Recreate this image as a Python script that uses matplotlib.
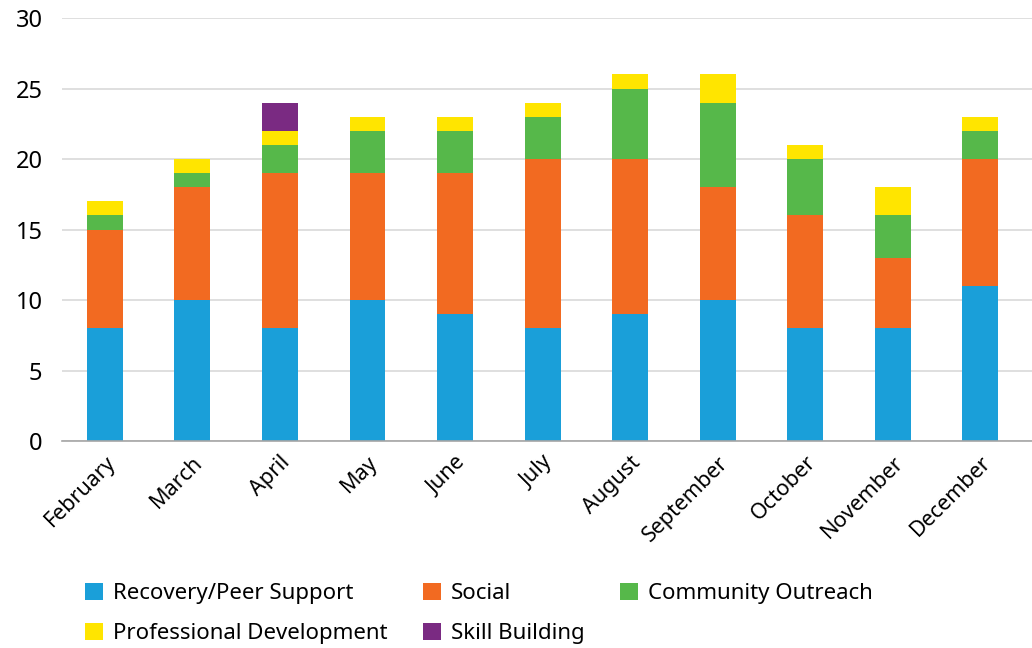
import matplotlib
matplotlib.use("Agg")
import matplotlib.pyplot as plt
import numpy as np

months = ["February", "March", "April", "May", "June", "July", "August",
          "September", "October", "November", "December"]

recovery = [8, 10, 8, 10, 9, 8, 9, 10, 8, 8, 11]
social = [7, 8, 11, 9, 10, 12, 11, 8, 8, 5, 9]
community = [1, 1, 2, 3, 3, 3, 5, 6, 4, 3, 2]
professional = [1, 1, 1, 1, 1, 1, 1, 2, 1, 2, 1]
skill = [0, 0, 2, 0, 0, 0, 0, 0, 0, 0, 0]

series = [
    ("Recovery/Peer Support", recovery, "#1a9fd9"),
    ("Social", social, "#f26a21"),
    ("Community Outreach", community, "#56b84a"),
    ("Professional Development", professional, "#ffe500"),
    ("Skill Building", skill, "#7a2a82"),
]

plt.rcParams["font.family"] = ["Noto Sans", "DejaVu Sans"]

fig = plt.figure(figsize=(10.32, 6.48), dpi=100)
ax = fig.add_axes([0.060, 0.3194, 0.940, 0.6528])

x = np.arange(len(months))
bottom = np.zeros(len(months))
handles = {}
for name, vals, color in series:
    vals = np.array(vals, dtype=float)
    h = ax.bar(x, vals, width=0.41, bottom=bottom, color=color, label=name, zorder=3)
    handles[name] = h
    bottom += vals

ax.set_ylim(0, 30)
ax.set_yticks(range(0, 31, 5))
ax.set_xlim(-0.49, 10.59)
ax.set_xticks(x)
ax.set_xticklabels(months, rotation=45, ha="right", rotation_mode="anchor", fontsize=15.5)
ax.tick_params(axis="y", labelsize=17, length=0, pad=14)
ax.tick_params(axis="x", length=0, pad=8)
ax.yaxis.grid(True, color="#d9d9d9", linewidth=1.2, zorder=0)
for side in ["top", "right", "left"]:
    ax.spines[side].set_visible(False)
ax.spines["bottom"].set_color("#a6a6a6")
ax.spines["bottom"].set_linewidth(1.2)
ax.spines["bottom"].set_zorder(4)

order = ["Recovery/Peer Support", "Professional Development", "Social",
         "Skill Building", "Community Outreach"]
fig.legend([handles[n] for n in order], order, loc="upper left",
           bbox_to_anchor=(0.074, 0.114), ncol=3, frameon=False, fontsize=16,
           handlelength=0.8, handleheight=0.8, handletextpad=0.45,
           columnspacing=1.6, labelspacing=0.85, borderaxespad=0)

fig.savefig("out.png", dpi=100)
